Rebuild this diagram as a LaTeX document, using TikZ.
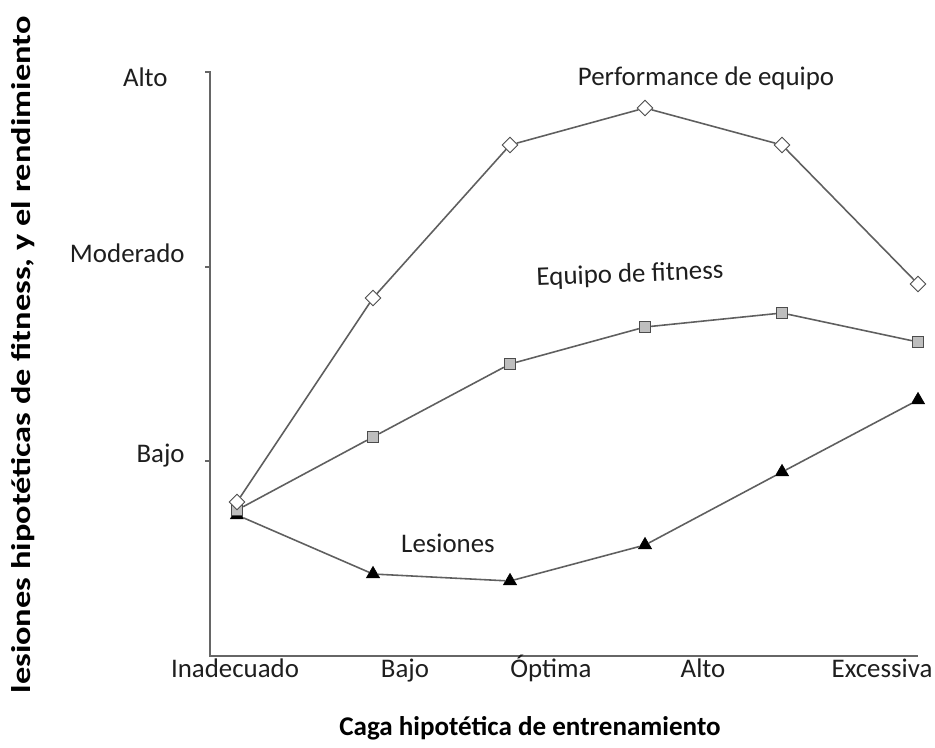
\documentclass[tikz,border=0pt]{standalone}
\usepackage{fontspec}
\setmainfont{Carlito}
\usetikzlibrary{shapes.geometric}
\definecolor{linegray}{RGB}{95,95,95}
\definecolor{markgray}{RGB}{190,190,190}
\definecolor{txtgray}{RGB}{30,30,30}
\tikzset{
  axis/.style={draw=gray!80!black, line width=1.3pt},
  curve/.style={draw=linegray, line width=0.9pt},
  perf/.style={diamond, draw=black!70, fill=white, line width=0.5pt, inner sep=0pt, minimum size=0.32cm},
  fitn/.style={rectangle, draw=black!70, fill=markgray, line width=0.5pt, inner sep=0pt, minimum size=0.23cm},
  lesi/.style={regular polygon, regular polygon sides=3, draw=black, fill=black, inner sep=0pt, minimum size=0.3cm},
  lbl/.style={text=txtgray, font=\fontsize{15.3}{17}\selectfont, inner sep=0pt},
  ttl/.style={text=black, font=\bfseries\fontsize{15.4}{17}\selectfont, inner sep=0pt}
}
\begin{document}
\begin{tikzpicture}[x=0.02cm, y=-0.02cm]
\useasboundingbox (0,0) rectangle (935,747);

% ejes
\draw[axis] (205,72) -- (210,72) -- (210,656) -- (918,656);
\draw[axis] (205,267) -- (210,267);
\draw[axis] (205,461) -- (210,461);

\node[lbl, anchor=base east] (yalto) at (168,86) {Alto};
\node[lbl, anchor=base east] (ymod) at (185,262) {Moderado};
\node[lbl, anchor=base east] (ybajo) at (185,462) {Bajo};

\node[lbl, anchor=base] (xinad) at (235,677) {Inadecuado};
\node[lbl, anchor=base] (xbajo) at (405,677) {Bajo};
\node[lbl, anchor=base] (xopt) at (551,677) {Óptima};
\node[lbl, anchor=base] (xalto) at (703,677) {Alto};
\node[lbl, anchor=base] (xexc) at (882,677) {Excessiva};

\node[ttl, rotate=90] (ytit) at (23,355) {\scalebox{1.27}[1]{lesiones hipotéticas de fitness, y el rendimiento}};
\node[ttl, anchor=base] (xtit) at (530,735) {Caga hipotética de entrenamiento};

% lesiones
\node[lesi] (l1) at (237,515) {};
\node[lesi] (l2) at (373,574) {};
\node[lesi] (l3) at (510,581) {};
\node[lesi] (l4) at (645,545) {};
\node[lesi] (l5) at (782,472) {};
\node[lesi] (l6) at (918,400) {};

% fitness
\node[fitn] (f1) at (237,510) {};
\node[fitn] (f2) at (373,437) {};
\node[fitn] (f3) at (510,364) {};
\node[fitn] (f4) at (645,327) {};
\node[fitn] (f5) at (782,313) {};
\node[fitn] (f6) at (918,342) {};

% performance
\node[perf] (p1) at (237,502) {};
\node[perf] (p2) at (373,298) {};
\node[perf] (p3) at (510,145) {};
\node[perf] (p4) at (645,108) {};
\node[perf] (p5) at (782,145) {};
\node[perf] (p6) at (918,284) {};

\draw[curve] (l1) -- (l2) -- (l3) -- (l4) -- (l5) -- (l6);
\draw[curve] (f1) -- (f2) -- (f3) -- (f4) -- (f5) -- (f6);
\draw[curve] (p1) -- (p2) -- (p3) -- (p4) -- (p5) -- (p6);

\node[lbl, anchor=base] (tperf) at (706,85) {Performance de equipo};
\node[lbl, rotate=2.2] (tfitn) at (630,275) {Equipo de fitness};
\node[lbl, anchor=base] (tlesi) at (448,552) {Lesiones};
\end{tikzpicture}
\end{document}
